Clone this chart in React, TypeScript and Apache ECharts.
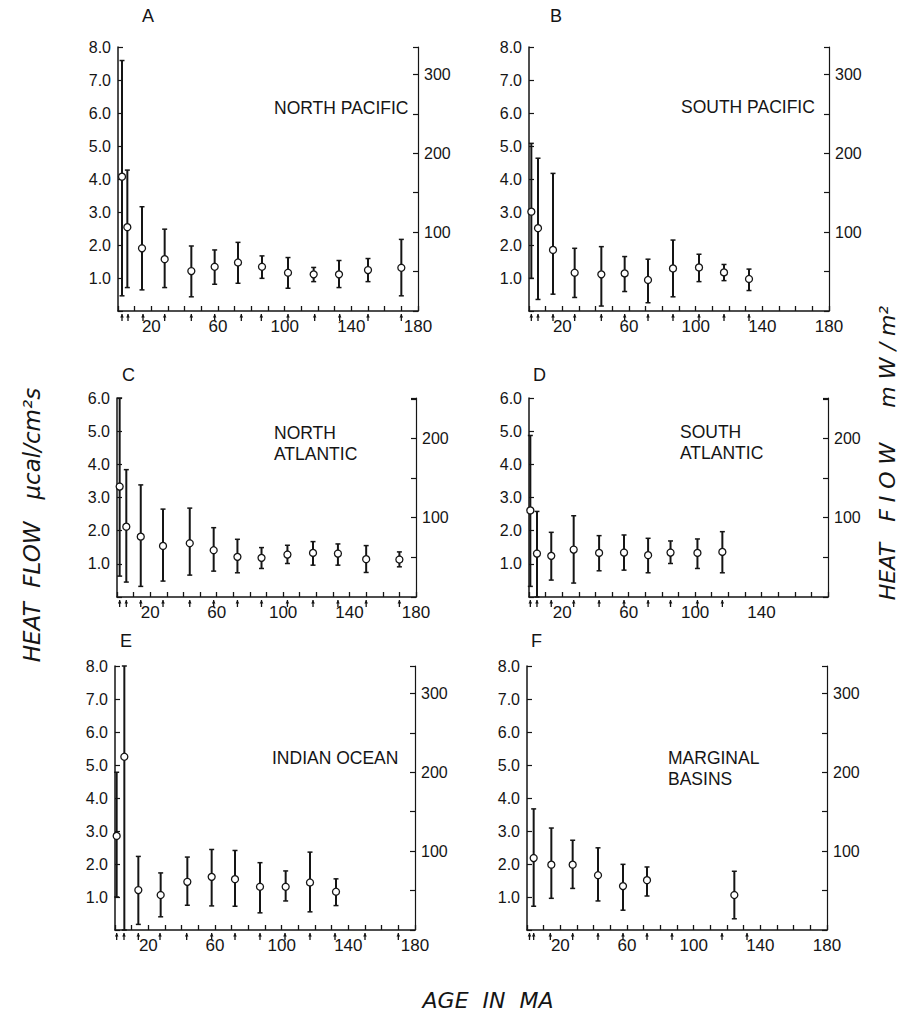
import React, { useEffect, useRef } from "react";
import * as echarts from "echarts";

const MW_PER_HFU = 41.84;

// A – North Pacific
const npAge = [2.4, 5.6, 14.4, 28, 44, 58, 72, 86.4, 102, 117.4, 132.6, 150, 170];
const npMean = [4.07, 2.54, 1.9, 1.57, 1.21, 1.34, 1.47, 1.34, 1.16, 1.11, 1.11, 1.24, 1.31];
const npLow = [0.46, 0.71, 0.64, 0.71, 0.43, 0.81, 0.84, 0.99, 0.69, 0.89, 0.71, 0.89, 0.46];
const npHigh = [7.59, 4.27, 3.16, 2.48, 1.97, 1.85, 2.08, 1.67, 1.62, 1.32, 1.53, 1.59, 2.17];
const npMarks = [2.4, 6, 15, 28, 44, 58, 74, 86, 102, 118, 133, 150, 170];

// B – South Pacific
const spAge = [1.4, 5.4, 14.4, 27.4, 43.4, 57.4, 71.4, 86.4, 102, 117, 132];
const spMean = [3.01, 2.51, 1.85, 1.16, 1.11, 1.14, 0.94, 1.29, 1.32, 1.17, 0.97];
const spLow = [0.99, 0.35, 0.51, 0.41, 0.15, 0.59, 0.25, 0.43, 0.89, 0.92, 0.62];
const spHigh = [5.08, 4.63, 4.17, 1.9, 1.95, 1.65, 1.57, 2.15, 1.72, 1.41, 1.27];
const spMarks = [1.4, 5.4, 14.4, 27.4, 43.4, 57.4, 71.4, 86.4, 102, 117, 132];

// C – North Atlantic
const naAge = [1.6, 5.6, 14.3, 27.7, 43.8, 58.2, 72.5, 87, 102.6, 118, 133, 150, 170];
const naMean = [3.33, 2.12, 1.82, 1.54, 1.62, 1.41, 1.21, 1.18, 1.28, 1.33, 1.31, 1.14, 1.13];
const naLow = [0.63, 0.45, 0.32, 0.48, 0.66, 0.78, 0.73, 0.86, 1.01, 0.96, 0.96, 0.74, 0.91];
const naHigh = [6.0, 3.84, 3.38, 2.65, 2.68, 2.09, 1.74, 1.49, 1.56, 1.67, 1.6, 1.55, 1.36];
const naMarks = [1.6, 5.6, 14.3, 27.7, 43.8, 58.2, 72.5, 87, 102.6, 118, 133, 150, 170];

// D – South Atlantic
const saAge = [0.8, 4.8, 13.4, 26.9, 42.2, 57.2, 71.7, 85.2, 101.4, 116.4];
const saMean = [2.61, 1.31, 1.24, 1.43, 1.33, 1.34, 1.26, 1.34, 1.33, 1.36];
const saLow = [0.32, 0.0, 0.51, 0.42, 0.79, 0.81, 0.73, 1.01, 0.86, 0.73];
const saHigh = [4.87, 2.58, 1.95, 2.45, 1.85, 1.87, 1.77, 1.69, 1.75, 1.97];
const saMarks = [0.8, 4.8, 13.4, 26.9, 42.2, 57.2, 71.7, 85.2, 101.4, 116.4];

// E – Indian Ocean
const ioAge = [1, 5.6, 14, 27.4, 43.4, 58, 72, 87, 102.4, 117, 132.6];
const ioMean = [2.85, 5.25, 1.21, 1.06, 1.46, 1.61, 1.54, 1.31, 1.31, 1.44, 1.16];
const ioLow = [1.0, 0.0, 0.17, 0.4, 0.75, 0.73, 0.72, 0.52, 0.88, 0.55, 0.74];
const ioHigh = [4.78, 8.0, 2.23, 1.73, 2.21, 2.44, 2.41, 2.04, 1.79, 2.36, 1.55];
const ioMarks = [1, 5.4, 14, 27, 43, 58, 72, 87, 102, 117, 132, 150, 170];

// F – Marginal basins
const mbAge = [4, 14.6, 27.4, 42.6, 57.6, 72, 124.4];
const mbMean = [2.18, 1.98, 1.98, 1.66, 1.33, 1.51, 1.06];
const mbLow = [0.72, 0.96, 1.26, 0.88, 0.6, 1.03, 0.34];
const mbHigh = [3.67, 3.09, 2.72, 2.49, 1.99, 1.91, 1.78];
const mbMarks = [1.5, 4, 14, 27.4, 42.6, 57.6, 72, 87, 117, 132];

const xLabelsFull = [20, 60, 100, 140, 180];
const xLabelsShort = [20, 60, 100, 140];
const mwLabels = [100, 200, 300];

const INK = "#151515";
const FONT = "Liberation Sans, Arial, sans-serif";

const panels = [
  { letter: "A", title: "NORTH PACIFIC", age: npAge, mean: npMean, low: npLow, high: npHigh, marks: npMarks, ymax: 8, xl: xLabelsFull,
    grid: { left: 118, top: 47, width: 300, height: 264 }, tpos: [274, 107], lpos: [142, 16] },
  { letter: "B", title: "SOUTH PACIFIC", age: spAge, mean: spMean, low: spLow, high: spHigh, marks: spMarks, ymax: 8, xl: xLabelsFull,
    grid: { left: 529, top: 47, width: 300, height: 264 }, tpos: [681, 106], lpos: [550, 16] },
  { letter: "C", title: "NORTH\nATLANTIC", age: naAge, mean: naMean, low: naLow, high: naHigh, marks: naMarks, ymax: 6, xl: xLabelsFull,
    grid: { left: 117, top: 398, width: 299, height: 199 }, tpos: [274, 432], lpos: [122, 375] },
  { letter: "D", title: "SOUTH\nATLANTIC", age: saAge, mean: saMean, low: saLow, high: saHigh, marks: saMarks, ymax: 6, xl: xLabelsShort,
    grid: { left: 529, top: 398, width: 299, height: 199 }, tpos: [680, 431], lpos: [533, 375] },
  { letter: "E", title: "INDIAN OCEAN", age: ioAge, mean: ioMean, low: ioLow, high: ioHigh, marks: ioMarks, ymax: 8, xl: xLabelsFull,
    grid: { left: 115, top: 666, width: 300, height: 264 }, tpos: [272, 757], lpos: [120, 641] },
  { letter: "F", title: "MARGINAL\nBASINS", age: mbAge, mean: mbMean, low: mbLow, high: mbHigh, marks: mbMarks, ymax: 8, xl: xLabelsFull,
    grid: { left: 527, top: 666, width: 300, height: 264 }, tpos: [668, 757], lpos: [531, 641] },
];

function buildOption() {
  const grid: any[] = [];
  const xAxis: any[] = [];
  const yAxis: any[] = [];
  const series: any[] = [];
  const graphic: any[] = [];

  panels.forEach((p, i) => {
    grid.push({ ...p.grid, containLabel: false });
    xAxis.push({
      type: "value", gridIndex: i, min: 0, max: 180, interval: 10,
      axisLine: { show: true, lineStyle: { color: INK, width: 1.5 } },
      axisTick: { show: true, inside: true, length: 5, lineStyle: { color: INK, width: 1.3 } },
      splitLine: { show: false },
      axisLabel: {
        color: INK, fontSize: 17, fontFamily: FONT, margin: 7,
        formatter: (v: number) => (p.xl.indexOf(Math.round(v)) >= 0 ? String(Math.round(v)) : ""),
      },
    });
    yAxis.push({
      type: "value", gridIndex: i, min: 0, max: p.ymax, interval: 1, position: "left",
      axisLine: { show: true, lineStyle: { color: INK, width: 1.5 } },
      axisTick: { show: true, inside: true, length: 5, lineStyle: { color: INK, width: 1.2 } },
      splitLine: { show: false },
      axisLabel: {
        color: INK, fontSize: 16, fontFamily: FONT, margin: 7,
        formatter: (v: number) => (v === 0 ? "" : v.toFixed(1)),
      },
    });
    yAxis.push({
      type: "value", gridIndex: i, min: 0, max: p.ymax * MW_PER_HFU, interval: 50, position: "right",
      axisLine: { show: true, lineStyle: { color: INK, width: 1.2 } },
      axisTick: { show: true, inside: true, length: 5, lineStyle: { color: INK, width: 1.2 } },
      splitLine: { show: false },
      axisLabel: {
        color: INK, fontSize: 16, fontFamily: FONT, margin: 6,
        formatter: (v: number) => (mwLabels.indexOf(Math.round(v)) >= 0 ? String(Math.round(v)) : ""),
      },
    });

    series.push({
      type: "custom", xAxisIndex: i, yAxisIndex: 2 * i, clip: false,
      data: p.age.map((a, k) => [a, p.low[k], p.high[k]]),
      encode: { x: 0, y: [1, 2] },
      renderItem: (params: any, api: any) => {
        const x = api.value(0);
        const top = api.coord([x, api.value(2)]);
        const bot = api.coord([x, api.value(1)]);
        return {
          type: "group",
          children: [
            { type: "line", shape: { x1: top[0], y1: top[1], x2: bot[0], y2: bot[1] }, style: { stroke: INK, lineWidth: 2 } },
            { type: "line", shape: { x1: top[0] - 2.5, y1: top[1], x2: top[0] + 2.5, y2: top[1] }, style: { stroke: INK, lineWidth: 1.5 } },
            { type: "line", shape: { x1: bot[0] - 2.5, y1: bot[1], x2: bot[0] + 2.5, y2: bot[1] }, style: { stroke: INK, lineWidth: 1.5 } },
          ],
        };
      },
      z: 2,
    });
    series.push({
      type: "scatter", xAxisIndex: i, yAxisIndex: 2 * i,
      data: p.age.map((a, k) => [a, p.mean[k]]),
      symbol: "circle", symbolSize: 7,
      itemStyle: { color: "#ffffff", borderColor: INK, borderWidth: 1.3, opacity: 1 },
      emphasis: { disabled: true },
      z: 3,
    });
    series.push({
      type: "custom", xAxisIndex: i, yAxisIndex: 2 * i, clip: false,
      data: p.marks.map((m) => [m, 0]),
      encode: { x: 0, y: 1 },
      renderItem: (params: any, api: any) => {
        const c = api.coord([api.value(0), 0]);
        return {
          type: "group",
          children: [
            { type: "line", shape: { x1: c[0], y1: c[1] + 3, x2: c[0], y2: c[1] + 10 }, style: { stroke: INK, lineWidth: 1.3 } },
            { type: "polygon", shape: { points: [[c[0] - 1.8, c[1] + 6.5], [c[0] + 1.8, c[1] + 6.5], [c[0], c[1] + 3]] }, style: { fill: INK } },
          ],
        };
      },
    });

    graphic.push({
      type: "text", x: p.lpos[0], y: p.lpos[1],
      style: { text: p.letter, font: `18px ${FONT}`, fill: INK, align: "left", verticalAlign: "middle", textAlign: "left", textVerticalAlign: "middle" },
    });
    graphic.push({
      type: "text", x: p.tpos[0], y: p.tpos[1] - 10,
      style: { text: p.title, font: `17.5px ${FONT}`, lineHeight: 21, fill: INK, align: "left", verticalAlign: "top", textAlign: "left", textVerticalAlign: "top" },
    });
  });

  graphic.push({
    type: "text", x: 32, y: 525, rotation: Math.PI / 2,
    style: { text: "HEAT  FLOW   µcal/cm²s", font: `italic 23px DejaVu Sans, sans-serif`, fill: INK, align: "center", verticalAlign: "middle", textAlign: "center", textVerticalAlign: "middle" },
  });
  graphic.push({
    type: "text", x: 887, y: 453, rotation: Math.PI / 2,
    style: { text: "HEAT   F I O W     m W / m²", font: `italic 22px DejaVu Sans, sans-serif`, fill: INK, align: "center", verticalAlign: "middle", textAlign: "center", textVerticalAlign: "middle" },
  });
  graphic.push({
    type: "text", x: 488, y: 1000,
    style: { text: "AGE  IN  MA", font: `italic 22px DejaVu Sans, sans-serif`, fill: INK, align: "center", verticalAlign: "middle", textAlign: "center", textVerticalAlign: "middle" },
  });

  return { animation: false, backgroundColor: "#ffffff", grid, xAxis, yAxis, series, graphic };
}

export default function App() {
  const ref = useRef<HTMLDivElement>(null);
  useEffect(() => {
    document.body.style.margin = "0";
    if (!ref.current) return;
    const chart = echarts.init(ref.current, null, { renderer: "svg" });
    chart.setOption(buildOption() as any);
    return () => chart.dispose();
  }, []);
  return <div ref={ref} style={{ width: 902, height: 1018 }} />;
}
